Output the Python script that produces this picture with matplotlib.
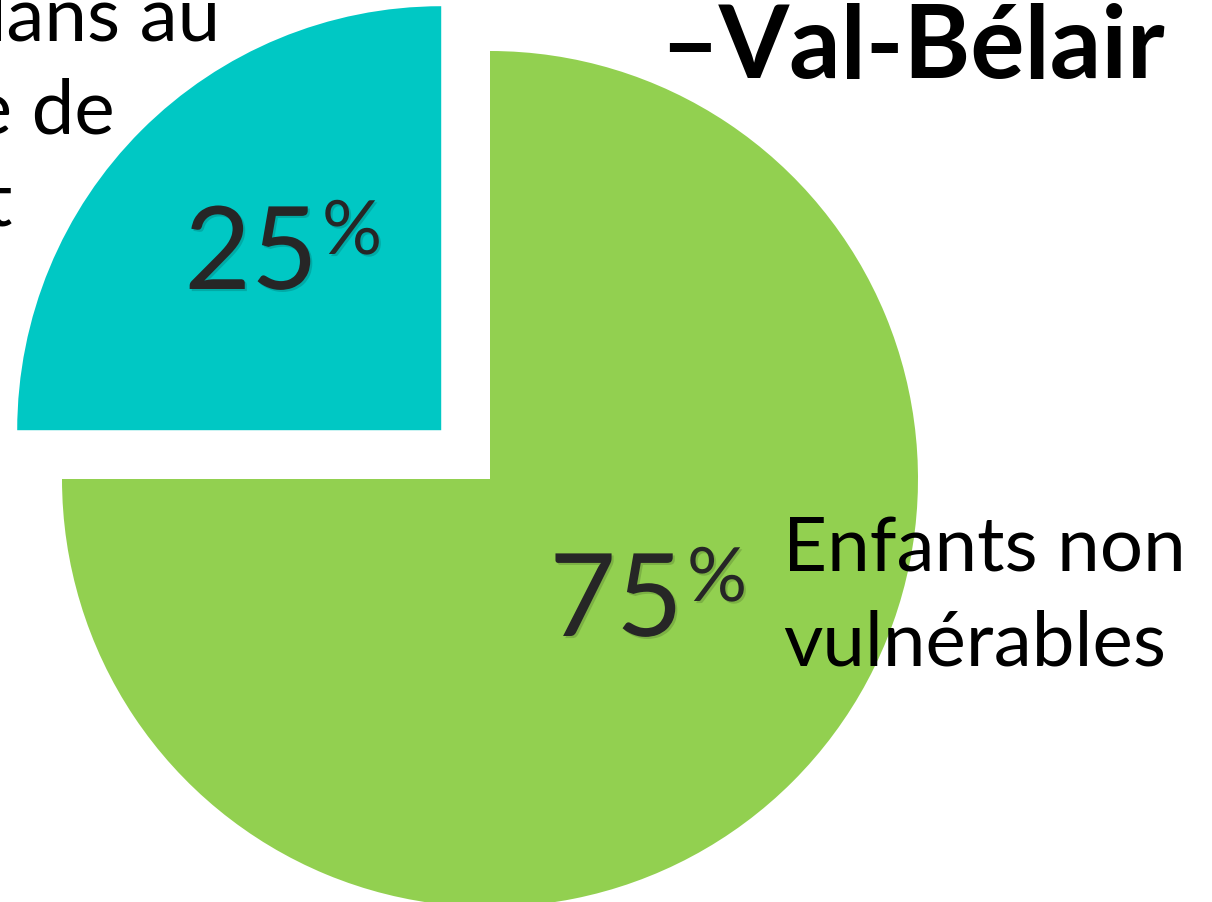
import matplotlib
matplotlib.use("Agg")
import matplotlib.pyplot as plt
import matplotlib.patheffects as pe

# data
values = [75, 25]
colors = ["#92D050", "#00C8C4"]
label_non = ["Enfants non", "vulnérables"]
label_vuln = ["Enfants vulnérables dans au", "moins un domaine de", "développement"]
title = "–Val-Bélair"

plt.rcParams['font.family'] = ['Lato', 'DejaVu Sans']

W, H = 1212, 903
fig = plt.figure(figsize=(W / 100, H / 100), dpi=100)
ax = fig.add_axes([0, 0, 1, 1])

# pie in pixel coords (y flipped), explode is in data units here
cx, cy, r = 490, H - 480, 428
wedges, _ = ax.pie(values, colors=colors, startangle=90, counterclock=False,
                   explode=[0, 69], radius=r, center=(cx, cy),
                   wedgeprops=dict(linewidth=0))
wedges[1].set_radius(424)  # exploded slice is a touch smaller
ax.set_xlim(0, W)
ax.set_ylim(0, H)
ax.set_aspect('equal')
ax.axis('off')

shadow = [pe.withSimplePatchShadow(offset=(1.5, -1.5), alpha=0.15, shadow_rgbFace='black')]

def pct(x, y, v):
    ax.text(x, H - y, str(v), fontsize=83, color="#262626", ha='right', va='baseline',
            path_effects=shadow)
    ax.text(x + 4, H - (y - 91), "%", fontsize=54, color="#262626", ha='left', va='top',
            path_effects=shadow)

pct(318, 290, values[1])
pct(683, 637, values[0])

# right label
for i, line in enumerate(label_non):
    ax.text(783, H - (572 + 93 * i), line, fontsize=55, color="black", ha='left', va='baseline')

# left label, cut by the edge
ends = [220, 115, 13]
for i, line in enumerate(label_vuln):
    ax.text(ends[i], H - (40 + 93 * i), line, fontsize=55, color="black", ha='right', va='baseline')

ax.text(1165, H - 78, title, fontsize=73, fontweight='bold', color="black", ha='right', va='baseline')

fig.savefig("out.png", dpi=100)
